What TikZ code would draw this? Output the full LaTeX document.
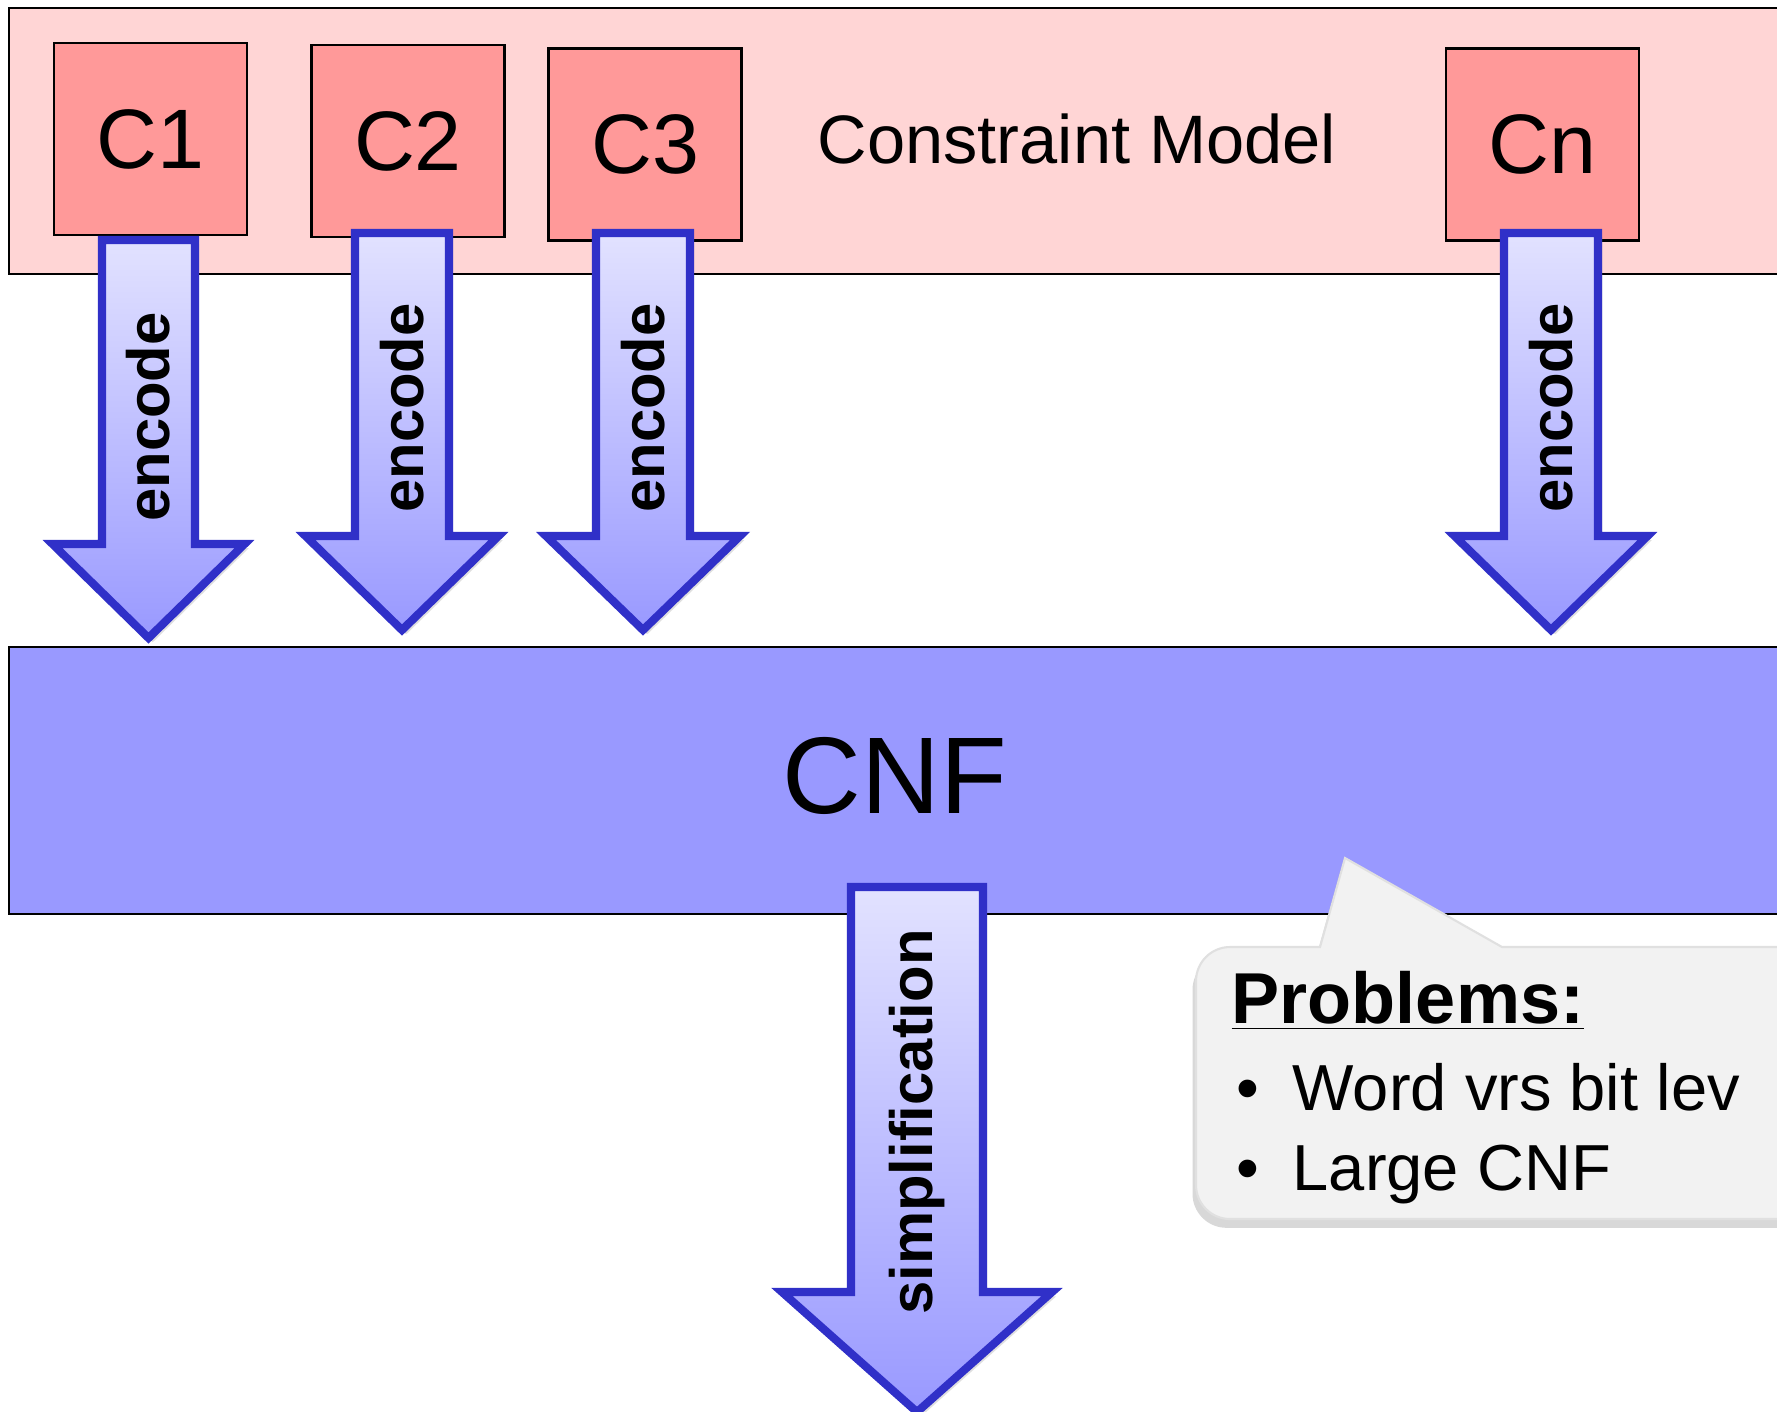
\documentclass[tikz,border=0pt]{standalone}
\usepackage{fontspec}
\setmainfont{Liberation Sans}
\usetikzlibrary{shadows}
\definecolor{bandpink}{HTML}{FFD5D5}
\definecolor{cboxred}{HTML}{FF9999}
\definecolor{cnfblue}{HTML}{9999FF}
\definecolor{arrtop}{HTML}{E2E2FF}
\definecolor{arrbot}{HTML}{9999FF}
\definecolor{arrborder}{HTML}{3030C8}
\definecolor{callgray}{HTML}{F2F2F2}
\newcommand\blockarrow[6]{%
  \path[draw=arrborder, line width=2.3pt, line join=miter,
        top color=arrtop, bottom color=arrbot,
        drop shadow={opacity=0.25, shadow xshift=1.2pt, shadow yshift=-1.2pt}]
    ({#1-#2},{#4}) -- ({#1+#2},{#4}) -- ({#1+#2},{#5}) -- ({#1+#3},{#5})
    -- ({#1},{#6}) -- ({#1-#3},{#5}) -- ({#1-#2},{#5}) -- cycle;}
\tikzset{
  cbox/.style={draw=black, line width=0.8pt, fill=cboxred, minimum width=1.93cm,
    minimum height=1.92cm, inner sep=0pt, font=\fontsize{24}{28}\selectfont},
  arrlabel/.style={rotate=90, font=\bfseries\fontsize{17}{20}\selectfont, inner sep=0pt},
  thinline/.style={draw=black, line width=0.8pt},
  bullettext/.style={anchor=base west, font=\fontsize{18.5}{22}\selectfont, inner sep=0pt}
}
\begin{document}
\begin{tikzpicture}[x=0.01cm, y=-0.01cm]
\useasboundingbox (0,0) rectangle (1777,1411);
\fill[white] (0,0) rectangle (1777,1411);
% constraint model band
\fill[bandpink] (9,8) rectangle (1777,274);
\draw[thinline] (1777,8) -- (9,8) -- (9,274) -- (1777,274);
\node[cbox] (c1) at (150.5,139) {C1};
\node[cbox] (c2) at (408,141) {C2};
\node[cbox] (c3) at (645,144.5) {C3};
\node[cbox] (cn) at (1542.5,144.5) {Cn};
\node[font=\fontsize{19.5}{23}\selectfont] (model) at (1077,139) {Constraint Model};
% CNF band
\fill[cnfblue] (9,647) rectangle (1777,914);
\draw[thinline] (1777,647) -- (9,647) -- (9,914) -- (1777,914);
\node[font=\fontsize{31}{36}\selectfont] (cnf) at (895,776) {CNF};
% encode arrows
\blockarrow{148.5}{46.5}{96}{240}{544}{638}
\node[arrlabel] (e1) at (148.5,417) {encode};
\blockarrow{402}{47}{96.5}{233}{536}{630}
\node[arrlabel] (e2) at (402,408) {encode};
\blockarrow{643}{47}{97}{233}{536}{630}
\node[arrlabel] (e3) at (643,408) {encode};
\blockarrow{1551}{47}{96.5}{233}{536}{630}
\node[arrlabel] (en) at (1551,408) {encode};
% simplification arrow
\blockarrow{917}{66}{135}{887}{1292}{1412}
\node[arrlabel] (simp) at (917,1122) {simplification};
% callout
\path[fill=callgray, draw=black!12, line width=0.6pt,
      drop shadow={opacity=0.3, shadow xshift=-1pt, shadow yshift=-2.5pt},
      rounded corners=0.34cm]
  (1790,1219) -- (1196,1219) -- (1196,947) [sharp corners] -- (1320,947)
  -- (1345,858) -- (1502,947) -- (1790,947);
\node[anchor=base west, font=\bfseries\fontsize{20.5}{24}\selectfont, inner sep=0pt]
  (prob) at (1231,1023) {\underline{Problems:}};
\node[bullettext] (d1) at (1236,1110) {\textbullet};
\node[bullettext] (b1) at (1292,1110) {Word vrs bit lev};
\node[bullettext] (d2) at (1236,1190) {\textbullet};
\node[bullettext] (b2) at (1292,1190) {Large CNF};
\end{tikzpicture}
\end{document}
